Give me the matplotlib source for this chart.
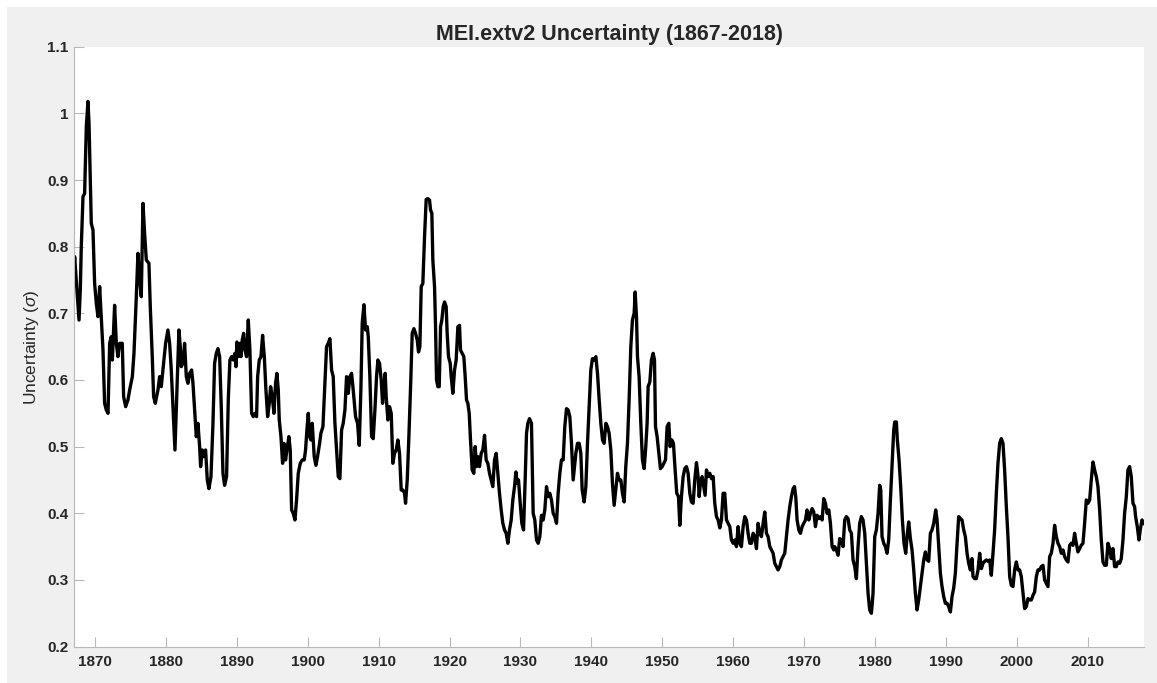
import numpy as np
import matplotlib

matplotlib.use("Agg")
import matplotlib.pyplot as plt
from matplotlib.patches import Rectangle

plt.rcParams["font.family"] = ["Liberation Sans", "DejaVu Sans"]
plt.rcParams["mathtext.fontset"] = "custom"
plt.rcParams["mathtext.it"] = "Liberation Sans:italic"
plt.rcParams["mathtext.rm"] = "Liberation Sans"

# MEI.extv2 uncertainty in chunks of ~21 years
years_1867 = [1867.00, 1867.13, 1867.46, 1867.75, 1867.93, 1868.07, 1868.31, 1868.54, 1868.78, 1869.01,
              1869.16, 1869.48, 1869.72, 1869.95, 1870.19, 1870.42, 1870.66, 1870.89, 1871.13, 1871.36,
              1871.60, 1871.84, 1872.07, 1872.30, 1872.45, 1872.77, 1873.01, 1873.24, 1873.48, 1873.85,
              1874.04, 1874.33, 1874.65, 1874.89, 1875.27, 1875.50, 1875.83, 1876.06, 1876.30, 1876.53,
              1876.77, 1877.00, 1877.24, 1877.61, 1877.80, 1878.08, 1878.27, 1878.51, 1878.88, 1879.12,
              1879.35, 1879.59, 1879.96, 1880.29, 1880.53, 1880.76, 1881.00, 1881.28, 1881.56, 1881.84,
              1882.03, 1882.17, 1882.41, 1882.64, 1882.88, 1883.11, 1883.35, 1883.63, 1883.82, 1884.05,
              1884.29, 1884.52, 1884.76, 1884.90, 1885.13, 1885.37, 1885.60, 1885.84, 1886.07, 1886.36,
              1886.64, 1886.87, 1887.11, 1887.34, 1887.58, 1887.81, 1888.05, 1888.28]
unc_1867 = [0.750, 0.785, 0.735, 0.690, 0.735, 0.800, 0.875, 0.880, 0.980, 1.018,
            0.985, 0.835, 0.825, 0.745, 0.715, 0.695, 0.740, 0.695, 0.645, 0.565,
            0.555, 0.550, 0.655, 0.665, 0.630, 0.712, 0.655, 0.635, 0.655, 0.655,
            0.575, 0.560, 0.570, 0.585, 0.605, 0.640, 0.725, 0.790, 0.750, 0.725,
            0.865, 0.820, 0.780, 0.775, 0.710, 0.635, 0.575, 0.565, 0.585, 0.605,
            0.590, 0.615, 0.655, 0.675, 0.655, 0.615, 0.560, 0.495, 0.585, 0.675,
            0.650, 0.620, 0.625, 0.655, 0.605, 0.595, 0.610, 0.615, 0.595, 0.555,
            0.515, 0.535, 0.500, 0.470, 0.495, 0.485, 0.495, 0.450, 0.437, 0.455,
            0.535, 0.625, 0.640, 0.647, 0.635, 0.560, 0.460, 0.442]

years_1888 = [1888.56, 1888.80, 1889.03, 1889.27, 1889.50, 1889.74, 1889.88, 1890.02, 1890.21, 1890.44,
              1890.59, 1890.77, 1890.96, 1891.15, 1891.38, 1891.62, 1891.85, 1892.09, 1892.32, 1892.56,
              1892.79, 1892.94, 1893.17, 1893.41, 1893.64, 1893.88, 1894.11, 1894.35, 1894.58, 1894.77,
              1895.00, 1895.24, 1895.47, 1895.66, 1895.85, 1895.99, 1896.23, 1896.46, 1896.65, 1896.88,
              1897.07, 1897.35, 1897.54, 1897.73, 1897.96, 1898.20, 1898.43, 1898.67, 1898.95, 1899.23,
              1899.51, 1899.70, 1899.89, 1900.08, 1900.27, 1900.45, 1900.64, 1900.92, 1901.16, 1901.39,
              1901.68, 1901.86, 1902.15, 1902.43, 1902.66, 1902.90, 1903.13, 1903.37, 1903.60, 1903.84,
              1904.07, 1904.31, 1904.54, 1904.78, 1905.01, 1905.25, 1905.48, 1905.72, 1905.95, 1906.19,
              1906.42, 1906.75, 1907.03, 1907.27, 1907.50, 1907.69, 1907.93, 1908.16, 1908.40, 1908.54,
              1908.77, 1909.01, 1909.24, 1909.48, 1909.71]
unc_1888 = [0.455, 0.570, 0.630, 0.635, 0.630, 0.640, 0.620, 0.657, 0.635, 0.655,
            0.635, 0.660, 0.670, 0.645, 0.635, 0.690, 0.645, 0.550, 0.545, 0.550,
            0.545, 0.605, 0.630, 0.635, 0.667, 0.635, 0.585, 0.545, 0.565, 0.590,
            0.575, 0.550, 0.595, 0.610, 0.585, 0.540, 0.515, 0.475, 0.505, 0.480,
            0.495, 0.515, 0.495, 0.405, 0.400, 0.390, 0.420, 0.460, 0.475, 0.480,
            0.480, 0.495, 0.525, 0.550, 0.515, 0.510, 0.535, 0.485, 0.472, 0.485,
            0.505, 0.520, 0.530, 0.595, 0.650, 0.655, 0.662, 0.615, 0.605, 0.535,
            0.495, 0.455, 0.452, 0.525, 0.535, 0.555, 0.605, 0.580, 0.605, 0.610,
            0.585, 0.545, 0.535, 0.502, 0.585, 0.685, 0.713, 0.675, 0.680, 0.665,
            0.605, 0.515, 0.512, 0.555, 0.605]

years_1910 = [1909.90, 1910.13, 1910.37, 1910.56, 1910.75, 1910.93, 1911.07, 1911.31, 1911.54, 1911.78,
              1912.01, 1912.25, 1912.48, 1912.72, 1912.95, 1913.19, 1913.42, 1913.66, 1913.80, 1914.04,
              1914.27, 1914.51, 1914.74, 1914.98, 1915.21, 1915.45, 1915.63, 1915.82, 1916.01, 1916.24,
              1916.48, 1916.71, 1916.95, 1917.18, 1917.33, 1917.51, 1917.65, 1917.89, 1918.03, 1918.17,
              1918.36, 1918.55, 1918.74, 1918.92, 1919.11, 1919.30, 1919.53, 1919.67, 1919.86, 1920.10,
              1920.24, 1920.47, 1920.71, 1920.94, 1921.18, 1921.41, 1921.55, 1921.79, 1922.02, 1922.21,
              1922.40, 1922.59, 1922.78, 1922.96, 1923.20, 1923.43, 1923.62, 1923.81, 1924.00, 1924.23,
              1924.47, 1924.70, 1924.94, 1925.17, 1925.41, 1925.64, 1925.88, 1926.11, 1926.35, 1926.58,
              1926.82, 1927.05, 1927.29, 1927.52, 1927.76, 1927.99, 1928.23, 1928.46, 1928.70, 1928.93,
              1929.17, 1929.36, 1929.54, 1929.73, 1929.97, 1930.20, 1930.44, 1930.67, 1930.86, 1931.05,
              1931.28]
unc_1910 = [0.630, 0.625, 0.600, 0.565, 0.590, 0.610, 0.575, 0.540, 0.560, 0.550,
            0.475, 0.490, 0.495, 0.510, 0.490, 0.435, 0.435, 0.430, 0.415, 0.450,
            0.515, 0.590, 0.670, 0.677, 0.670, 0.660, 0.642, 0.650, 0.740, 0.745,
            0.815, 0.871, 0.872, 0.870, 0.855, 0.850, 0.780, 0.740, 0.680, 0.600,
            0.590, 0.590, 0.680, 0.690, 0.710, 0.717, 0.710, 0.670, 0.635, 0.625,
            0.605, 0.580, 0.615, 0.630, 0.680, 0.682, 0.645, 0.640, 0.635, 0.605,
            0.570, 0.565, 0.550, 0.510, 0.465, 0.460, 0.500, 0.470, 0.485, 0.470,
            0.490, 0.495, 0.517, 0.480, 0.475, 0.460, 0.450, 0.440, 0.480, 0.490,
            0.460, 0.430, 0.405, 0.385, 0.375, 0.370, 0.355, 0.375, 0.390, 0.420,
            0.440, 0.462, 0.445, 0.450, 0.415, 0.385, 0.375, 0.450, 0.520, 0.535,
            0.542]

years_1931 = [1931.56, 1931.80, 1932.03, 1932.27, 1932.50, 1932.74, 1932.97, 1933.21, 1933.44, 1933.68,
              1933.91, 1934.15, 1934.38, 1934.62, 1934.85, 1935.09, 1935.32, 1935.56, 1935.79, 1936.03,
              1936.26, 1936.50, 1936.73, 1936.97, 1937.20, 1937.44, 1937.58, 1937.82, 1938.05, 1938.29,
              1938.52, 1938.71, 1938.99, 1939.23, 1939.46, 1939.70, 1939.93, 1940.16, 1940.40, 1940.64,
              1940.87, 1941.11, 1941.34, 1941.58, 1941.81, 1942.05, 1942.28, 1942.51, 1942.75, 1942.98,
              1943.22, 1943.45, 1943.69, 1943.92, 1944.16, 1944.39, 1944.63, 1944.86, 1945.10, 1945.33,
              1945.57, 1945.80, 1946.04, 1946.18, 1946.37, 1946.51, 1946.74, 1946.98, 1947.21, 1947.45,
              1947.68, 1947.87, 1948.01, 1948.25, 1948.48, 1948.72, 1948.91, 1949.05, 1949.28, 1949.52,
              1949.75, 1949.99, 1950.22, 1950.46, 1950.69, 1950.93, 1951.11, 1951.35, 1951.58, 1951.82,
              1952.05, 1952.29, 1952.48]
unc_1931 = [0.535, 0.400, 0.390, 0.360, 0.355, 0.365, 0.397, 0.390, 0.405, 0.440,
            0.425, 0.430, 0.420, 0.400, 0.395, 0.385, 0.430, 0.460, 0.480, 0.480,
            0.530, 0.557, 0.555, 0.545, 0.505, 0.450, 0.465, 0.490, 0.505, 0.505,
            0.490, 0.435, 0.417, 0.440, 0.505, 0.560, 0.615, 0.632, 0.630, 0.635,
            0.610, 0.570, 0.535, 0.510, 0.505, 0.535, 0.530, 0.520, 0.495, 0.445,
            0.412, 0.435, 0.460, 0.450, 0.450, 0.430, 0.417, 0.470, 0.505, 0.570,
            0.650, 0.690, 0.700, 0.732, 0.695, 0.635, 0.605, 0.535, 0.480, 0.467,
            0.500, 0.535, 0.590, 0.597, 0.630, 0.640, 0.630, 0.530, 0.515, 0.490,
            0.467, 0.470, 0.475, 0.480, 0.530, 0.535, 0.500, 0.510, 0.505, 0.465,
            0.430, 0.425, 0.382]

years_1952 = [1952.71, 1952.95, 1953.18, 1953.42, 1953.65, 1953.89, 1954.12, 1954.36, 1954.59, 1954.83,
              1955.06, 1955.21, 1955.39, 1955.63, 1955.86, 1956.05, 1956.24, 1956.47, 1956.71, 1956.94,
              1957.18, 1957.41, 1957.65, 1957.88, 1958.12, 1958.35, 1958.59, 1958.82, 1959.06, 1959.29,
              1959.53, 1959.76, 1960.00, 1960.23, 1960.47, 1960.70, 1960.94, 1961.17, 1961.41, 1961.64,
              1961.88, 1962.11, 1962.35, 1962.58, 1962.82, 1963.05, 1963.29, 1963.52, 1963.76, 1963.99,
              1964.23, 1964.46, 1964.70, 1964.93, 1965.17, 1965.40, 1965.64, 1965.87, 1966.11, 1966.34,
              1966.58, 1966.81, 1967.05, 1967.28, 1967.52, 1967.75, 1967.99, 1968.22, 1968.46, 1968.65,
              1968.83, 1969.02, 1969.26, 1969.49, 1969.73, 1969.96, 1970.20, 1970.43, 1970.67, 1970.90,
              1971.14, 1971.37, 1971.61, 1971.84, 1972.08, 1972.31, 1972.55, 1972.78, 1973.02, 1973.25,
              1973.49, 1973.72, 1973.96, 1974.19]
unc_1952 = [0.425, 0.455, 0.467, 0.470, 0.460, 0.430, 0.417, 0.415, 0.450, 0.476,
            0.455, 0.425, 0.445, 0.455, 0.440, 0.427, 0.465, 0.455, 0.460, 0.452,
            0.455, 0.415, 0.395, 0.390, 0.378, 0.390, 0.430, 0.430, 0.390, 0.385,
            0.380, 0.360, 0.355, 0.360, 0.350, 0.380, 0.355, 0.350, 0.380, 0.395,
            0.390, 0.370, 0.355, 0.355, 0.370, 0.365, 0.347, 0.385, 0.370, 0.365,
            0.385, 0.402, 0.370, 0.365, 0.350, 0.345, 0.340, 0.325, 0.320, 0.315,
            0.320, 0.330, 0.335, 0.340, 0.365, 0.390, 0.410, 0.425, 0.437, 0.440,
            0.425, 0.390, 0.375, 0.370, 0.380, 0.385, 0.390, 0.405, 0.390, 0.400,
            0.407, 0.402, 0.380, 0.397, 0.392, 0.395, 0.390, 0.422, 0.415, 0.400,
            0.405, 0.385, 0.350, 0.345]

years_1974 = [1974.33, 1974.56, 1974.80, 1975.03, 1975.27, 1975.50, 1975.74, 1975.97, 1976.21, 1976.44,
              1976.68, 1976.91, 1977.15, 1977.38, 1977.62, 1977.85, 1978.09, 1978.32, 1978.56, 1978.79,
              1979.03, 1979.26, 1979.50, 1979.73, 1979.97, 1980.20, 1980.44, 1980.67, 1980.82, 1981.00,
              1981.24, 1981.47, 1981.71, 1981.94, 1982.18, 1982.41, 1982.65, 1982.79, 1983.02, 1983.16,
              1983.40, 1983.63, 1983.87, 1984.10, 1984.34, 1984.57, 1984.76, 1985.00, 1985.23, 1985.47,
              1985.70, 1985.94, 1986.17, 1986.41, 1986.64, 1986.88, 1987.11, 1987.35, 1987.58, 1987.82,
              1988.05, 1988.29, 1988.57, 1988.76, 1988.99, 1989.23, 1989.46, 1989.70, 1989.93, 1990.17,
              1990.40, 1990.64, 1990.87, 1991.11, 1991.34, 1991.58, 1991.81, 1992.05, 1992.28, 1992.52,
              1992.75, 1992.99, 1993.22, 1993.46, 1993.69, 1993.83, 1994.07, 1994.30, 1994.54, 1994.77,
              1995.01, 1995.24, 1995.48, 1995.71, 1995.95]
unc_1974 = [0.350, 0.345, 0.337, 0.362, 0.360, 0.350, 0.390, 0.395, 0.392, 0.375,
            0.370, 0.330, 0.320, 0.302, 0.350, 0.385, 0.395, 0.390, 0.370, 0.325,
            0.280, 0.255, 0.250, 0.280, 0.365, 0.375, 0.400, 0.442, 0.435, 0.365,
            0.355, 0.350, 0.340, 0.360, 0.420, 0.470, 0.525, 0.537, 0.537, 0.510,
            0.480, 0.440, 0.390, 0.355, 0.340, 0.370, 0.387, 0.362, 0.345, 0.315,
            0.280, 0.255, 0.270, 0.290, 0.310, 0.330, 0.342, 0.330, 0.328, 0.370,
            0.375, 0.385, 0.405, 0.390, 0.350, 0.310, 0.290, 0.275, 0.265, 0.265,
            0.260, 0.252, 0.275, 0.288, 0.310, 0.355, 0.395, 0.392, 0.390, 0.375,
            0.365, 0.340, 0.325, 0.315, 0.332, 0.305, 0.302, 0.302, 0.315, 0.340,
            0.317, 0.325, 0.328, 0.330, 0.328]

years_1996 = [1996.18, 1996.41, 1996.65, 1996.88, 1997.12, 1997.35, 1997.59, 1997.82, 1998.06, 1998.29,
              1998.53, 1998.76, 1999.00, 1999.23, 1999.47, 1999.70, 1999.94, 2000.17, 2000.41, 2000.64,
              2000.88, 2001.11, 2001.35, 2001.58, 2001.82, 2002.05, 2002.29, 2002.52, 2002.76, 2002.99,
              2003.23, 2003.46, 2003.70, 2003.93, 2004.17, 2004.40, 2004.64, 2004.87, 2005.11, 2005.34,
              2005.58, 2005.81, 2006.05, 2006.28, 2006.52, 2006.75, 2006.99, 2007.22, 2007.46, 2007.69,
              2007.93, 2008.16, 2008.40, 2008.63, 2008.87, 2009.10, 2009.34, 2009.57, 2009.81, 2010.04,
              2010.28, 2010.51, 2010.75, 2010.98, 2011.22, 2011.45, 2011.69, 2011.92, 2012.16, 2012.39,
              2012.63, 2012.86, 2013.10, 2013.33, 2013.57, 2013.80, 2014.04, 2014.27, 2014.51, 2014.74,
              2014.98, 2015.21, 2015.45, 2015.68, 2015.92, 2016.15, 2016.39, 2016.62, 2016.76, 2017.00,
              2017.23, 2017.42, 2017.66, 2017.92]
unc_1996 = [0.330, 0.307, 0.340, 0.375, 0.430, 0.475, 0.505, 0.512, 0.505, 0.465,
            0.410, 0.365, 0.305, 0.292, 0.290, 0.315, 0.327, 0.315, 0.315, 0.305,
            0.280, 0.257, 0.260, 0.272, 0.270, 0.270, 0.277, 0.282, 0.305, 0.315,
            0.315, 0.320, 0.322, 0.300, 0.295, 0.290, 0.335, 0.340, 0.355, 0.382,
            0.365, 0.355, 0.350, 0.340, 0.345, 0.335, 0.330, 0.327, 0.352, 0.355,
            0.352, 0.370, 0.355, 0.342, 0.347, 0.352, 0.355, 0.385, 0.420, 0.415,
            0.420, 0.450, 0.477, 0.465, 0.455, 0.440, 0.405, 0.360, 0.327, 0.322,
            0.322, 0.355, 0.347, 0.332, 0.347, 0.320, 0.320, 0.327, 0.325, 0.332,
            0.360, 0.400, 0.425, 0.465, 0.470, 0.455, 0.415, 0.410, 0.395, 0.380,
            0.360, 0.375, 0.390, 0.385]

x_ticks = [1870, 1880, 1890, 1900, 1910, 1920, 1930, 1940, 1950, 1960, 1970, 1980, 1990, 2000, 2010]
y_ticks = [0.2, 0.3, 0.4, 0.5, 0.6, 0.7, 0.8, 0.9, 1.0, 1.1]
y_ticklabels = ["0.2", "0.3", "0.4", "0.5", "0.6", "0.7", "0.8", "0.9", "1", "1.1"]

years = np.concatenate([years_1867, years_1888, years_1910, years_1931,
                        years_1952, years_1974, years_1996])
unc = np.concatenate([unc_1867, unc_1888, unc_1910, unc_1931,
                      unc_1952, unc_1974, unc_1996])

AXIS_GRAY = "#b8b8b8"
TEXT = "#262626"

fig = plt.figure(figsize=(11.57, 6.83), dpi=100, facecolor="white")
# MATLAB-style grey figure window (screenshot has a thin white strip top/left)
fig.patches.append(Rectangle((7 / 1157, 0), 1 - 7 / 1157, 1 - 7 / 683,
                             transform=fig.transFigure, facecolor="#f0f0f0",
                             edgecolor="none", zorder=-10))

ax = fig.add_axes([0.0637, 0.0533, 0.9891 - 0.0637, 0.9316 - 0.0533])
ax.set_zorder(5)
ax.set_facecolor("white")
ax.plot(years, unc, color="black", linewidth=2.4, solid_joinstyle="round")

ax.set_xlim(1867, 2018)
ax.set_ylim(0.2, 1.1)
ax.set_xticks(x_ticks)
ax.set_yticks(y_ticks)
ax.set_yticklabels(y_ticklabels)

for spine in ["top", "right"]:
    ax.spines[spine].set_visible(False)
for spine in ["left", "bottom"]:
    ax.spines[spine].set_color(AXIS_GRAY)
    ax.spines[spine].set_linewidth(0.8)

ax.tick_params(axis="both", direction="in", length=7.5, width=0.8,
               color=AXIS_GRAY, labelcolor=TEXT, labelsize=11)
ax.tick_params(axis="x", pad=6)
ax.tick_params(axis="y", pad=4)
for lbl in ax.get_xticklabels() + ax.get_yticklabels():
    lbl.set_fontweight("bold")

ax.set_ylabel(r"Uncertainty ($\sigma$)", fontsize=12.5, color=TEXT, labelpad=4)
ax.set_title("MEI.extv2 Uncertainty (1867-2018)", fontsize=15.5,
             fontweight="bold", color=TEXT, pad=5)

fig.savefig("out.png", dpi=100, facecolor=fig.get_facecolor())
